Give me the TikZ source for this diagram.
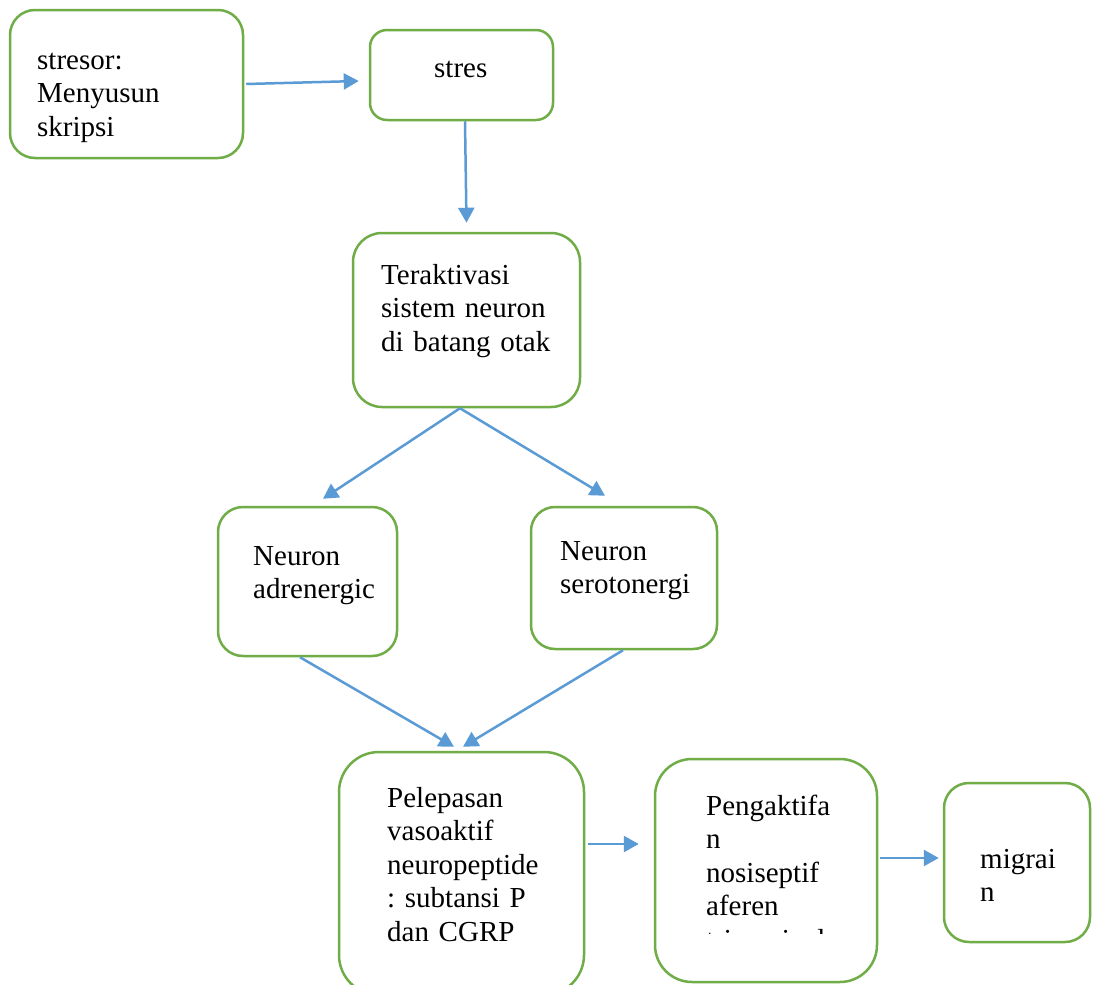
\documentclass[tikz,border=0pt]{standalone}
\usepackage{fontspec}
\setmainfont{Liberation Serif}
\usepackage{tikz}
\usetikzlibrary{arrows.meta,positioning,calc}
\definecolor{boxgreen}{HTML}{70AD47}
\definecolor{arrowblue}{HTML}{5B9BD5}
\frenchspacing
\tikzset{
  flowbox/.style={draw=boxgreen, line width=2.5pt, rounded corners=#1, inner sep=0pt},
  boxtext/.style={font=\fontsize{29}{33.5}\selectfont, text width=200pt, align=left, anchor=base west, inner sep=0pt},
  flow/.style={draw=arrowblue, line width=2.5pt, -{Triangle[length=15pt,width=16pt]}}
}
\begin{document}
\begin{tikzpicture}[x=1pt,y=-1pt]
  \clip (0,0) rectangle (1093,985);
  \fill[white] (0,0) rectangle (1093,985);

  \node (stresor) [flowbox=25pt, minimum width=233pt, minimum height=148pt] at (126.5,84) {};
  \node (stres) [flowbox=17pt, minimum width=183pt, minimum height=90pt] at (461.5,75) {};
  \node (akt) [flowbox=29pt, minimum width=227pt, minimum height=174pt] at (466.5,320) {};
  \node (adr) [flowbox=25pt, minimum width=179pt, minimum height=149pt] at (307.5,581.5) {};
  \node (sero) [flowbox=24pt, minimum width=186pt, minimum height=142pt] at (624,578) {};
  \node (pel) [flowbox=40pt, minimum width=245pt, minimum height=243pt] at (461.5,873.5) {};
  \node (peng) [flowbox=37pt, minimum width=222pt, minimum height=223pt] at (766,870.5) {};
  \node (mig) [flowbox=25pt, minimum width=146pt, minimum height=159pt] at (1017,862.5) {};

  \node (stresor-t) [boxtext] at (37,69) {stresor:\\Menyusun\\skripsi};
  \node (stres-t) [boxtext] at (434,77) {stres};
  \node (akt-t) [boxtext] at (381,284) {Teraktivasi\\sistem neuron\\di batang otak};
  \node (adr-t) [boxtext] at (253,565) {Neuron\\adrenergic};
  \node (sero-t) [boxtext] at (560,560) {Neuron\\serotonergi};
  \node (pel-t) [boxtext] at (387,807) {Pelepasan\\vasoaktif\\neuropeptide\\: subtansi P\\dan CGRP};
  \begin{scope}
    \clip (655,759) rectangle (877,933.5);
    \node (peng-t) [boxtext] at (706,815) {Pengaktifa\\n\\nosiseptif\\aferen\\trigeminal};
  \end{scope}
  \node (mig-t) [boxtext] at (980,868) {migrai\\n};

  \path [flow]
  ([xshift=2pt]stresor.east) -- ([xshift=-10pt,yshift=-6pt]stres.west);
  \path [flow]
  ([xshift=3.5pt]stres.south) -- ([yshift=9pt]akt.north);
  \path [flow]
  ([xshift=-6.5pt]akt.south) -- ([xshift=15.5pt,yshift=7pt]adr.north);
  \path [flow]
  ([xshift=-6.5pt]akt.south) -- ([xshift=-19pt,yshift=10pt]sero.north);
  \path [flow]
  ([xshift=-7.5pt]adr.south) -- ([xshift=-7.5pt,yshift=4pt]pel.north);
  \path [flow]
  ([xshift=-1pt]sero.south) -- ([xshift=1.5pt,yshift=4pt]pel.north);
  \path [flow]
  ([xshift=3pt,yshift=29.5pt]pel.east) -- ([xshift=-15pt,yshift=26.5pt]peng.west);
  \path [flow]
  ([xshift=2pt,yshift=12.5pt]peng.east) -- ([xshift=-4pt,yshift=4.5pt]mig.west);
\end{tikzpicture}
\end{document}
